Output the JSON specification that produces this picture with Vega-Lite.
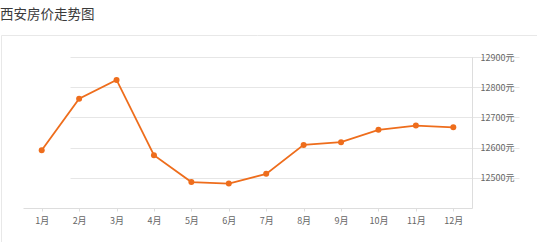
{
  "$schema": "https://vega.github.io/schema/vega-lite/v6.json",
  "width": 540,
  "height": 215,
  "autosize": "none",
  "padding": {"left": 1, "top": 35, "right": 0, "bottom": 0},
  "background": "#ffffff",
  "title": {
    "text": "西安房价走势图",
    "anchor": "start",
    "frame": "group",
    "font": "Noto Sans CJK SC",
    "fontSize": 13.5,
    "fontWeight": "normal",
    "color": "#3a3a3a",
    "offset": 14,
    "dx": -1
  },
  "data": {
    "values": [
      {"month": "1月", "price": 12591},
      {"month": "2月", "price": 12762},
      {"month": "3月", "price": 12824},
      {"month": "4月", "price": 12575},
      {"month": "5月", "price": 12486},
      {"month": "6月", "price": 12481},
      {"month": "7月", "price": 12513},
      {"month": "8月", "price": 12609},
      {"month": "9月", "price": 12618},
      {"month": "10月", "price": 12659},
      {"month": "11月", "price": 12673},
      {"month": "12月", "price": 12667}
    ]
  },
  "encoding": {
    "x": {
      "field": "month",
      "type": "ordinal",
      "sort": null,
      "scale": {"type": "point", "padding": 0.5, "range": [22, 471]},
      "axis": {
        "title": null,
        "orient": "bottom",
        "offset": -42,
        "labelAngle": 0,
        "grid": false,
        "domainColor": "#dddddd",
        "tickColor": "#dddddd",
        "tickSize": 3,
        "labelPadding": 5,
        "labelFont": "Noto Sans CJK SC",
        "labelFontSize": 9,
        "labelColor": "#666666"
      }
    },
    "y": {
      "field": "price",
      "type": "quantitative",
      "scale": {"domain": [12400, 12900], "range": [173, 22], "nice": false, "zero": false},
      "axis": {
        "title": null,
        "orient": "right",
        "offset": -69,
        "values": [12500, 12600, 12700, 12800, 12900],
        "labelExpr": "datum.value + '元'",
        "grid": true,
        "gridColor": "#e6e6e6",
        "domainColor": "#dddddd",
        "ticks": false,
        "labelPadding": 8,
        "labelFont": "Noto Sans CJK SC",
        "labelFontSize": 9,
        "labelColor": "#666666"
      }
    }
  },
  "layer": [
    {"mark": {"type": "line", "color": "#ee6d1c", "strokeWidth": 1.8}},
    {"mark": {"type": "point", "filled": true, "size": 36, "color": "#ee6d1c", "opacity": 1}}
  ],
  "config": {
    "view": {"stroke": "#e8e8e8", "strokeWidth": 1}
  }
}
